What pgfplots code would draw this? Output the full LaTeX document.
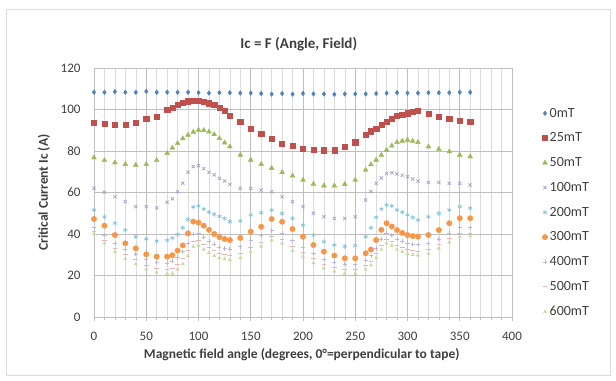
\documentclass[border=0pt]{standalone}
\usepackage{pgfplots}
\pgfplotsset{compat=1.18}
\usepackage{pgfplotstable}
\usepackage{fontspec}
\setmainfont{Carlito}
\definecolor{cA}{HTML}{4F81BD}
\definecolor{cB}{HTML}{C0504D}
\definecolor{cC}{HTML}{9BBB59}
\definecolor{cD}{HTML}{A89CCB}
\definecolor{cE}{HTML}{86C6DC}
\definecolor{cF}{HTML}{F79646}
\definecolor{cG}{HTML}{BDB5DC}
\definecolor{cH}{HTML}{E8B4B2}
\definecolor{cI}{HTML}{C9DA9E}
\definecolor{txt}{HTML}{404040}
\definecolor{grd}{HTML}{BFBFBF}
\definecolor{grdl}{HTML}{DCDCDC}

\pgfplotstableread{
a v
0 108.3
10 108.3
20 108.6
30 108.3
40 108.3
50 108.7
60 108.3
70 108.3
80 108.3
90 108.3
100 108.1
110 107.9
120 108.1
130 108.1
140 107.9
150 107.9
160 107.7
170 107.4
180 107.7
190 107.4
200 107.7
210 107.5
220 107.5
230 107.3
240 107.5
250 107.5
260 107.5
270 107.7
280 107.9
290 108.1
300 107.9
310 107.9
320 108.1
330 108.1
340 108.1
350 108.3
360 108.3
}\zero

\pgfplotstableread{
a    m25   m50   m100  m200  m300  m400  m500  m600
0    93.8  76.8  62.0  51.6  47.2  43.0  41.0  40.0
10   93.0  75.5  60.1  48.3  44.0  39.5  37.0  35.5
20   92.8  74.4  58.0  45.2  39.5  35.6  33.0  31.5
30   92.8  73.6  55.6  41.9  35.5  32.8  30.0  28.0
40   93.8  73.2  53.2  38.7  33.1  30.4  27.5  25.5
50   95.4  73.6  53.2  37.6  30.2  28.0  25.0  23.0
60   96.5  75.5  52.6  36.6  29.1  26.5  23.5  21.5
70   99.8  78.9  55.3  37.0  29.1  26.0  23.0  20.8
75   101.0 81.5  57.0  38.0  29.8  27.0  23.5  21.0
80   102.2 83.7  60.4  39.8  32.0  28.7  25.5  23.0
85   103.2 86.0  64.5  43.0  34.5  31.5  28.0  25.5
90   104.0 87.7  69.7  47.0  40.3  35.6  32.0  29.5
95   104.3 89.2  72.5  53.0  46.0  40.0  36.5  34.0
100  104.3 90.1  72.9  53.5  45.5  40.5  37.0  34.5
105  103.8 90.0  71.5  52.0  44.0  38.5  35.0  32.5
110  103.0 89.3  69.7  50.5  42.0  36.5  33.5  31.0
115  102.2 88.0  68.5  49.5  40.0  35.0  32.0  29.5
120  101.0 86.1  66.8  48.5  38.5  33.7  30.5  28.5
125  99.5  84.0  65.5  47.5  37.6  33.0  30.0  28.0
130  97.0  82.1  64.0  46.0  37.1  32.8  29.5  27.5
140  94.1  78.1  62.0  46.3  38.1  33.9  30.5  28.5
150  90.9  75.7  62.0  49.2  41.1  36.8  33.5  31.5
160  88.5  73.6  61.2  50.3  43.5  39.3  36.0  34.0
170  86.1  71.7  60.4  51.6  47.2  41.7  39.0  37.0
180  83.7  69.7  58.0  49.9  45.9  40.5  37.5  35.5
190  82.6  68.1  55.6  47.5  42.4  36.8  34.0  32.0
200  81.3  66.0  53.2  44.3  38.7  33.7  31.0  29.0
210  80.5  64.1  50.0  39.5  34.7  30.5  28.0  26.0
220  80.4  63.3  48.3  36.3  31.5  28.0  25.5  23.5
230  80.4  63.3  47.5  34.7  29.6  26.5  24.0  22.0
240  82.1  64.0  47.5  34.0  28.3  25.5  23.0  21.0
250  84.2  66.0  48.3  34.5  28.3  25.5  23.0  21.0
260  88.0  70.8  56.4  38.7  30.7  27.5  25.0  23.0
265  89.5  73.5  60.5  43.0  32.5  29.5  27.0  25.0
270  90.9  75.7  64.4  48.0  37.1  33.0  30.5  28.5
275  92.5  78.0  67.0  52.0  42.0  37.5  34.5  32.5
280  94.1  80.5  69.2  54.0  45.2  40.5  37.5  35.5
285  95.6  82.5  69.5  53.5  43.6  39.5  36.5  34.5
290  97.0  84.2  69.0  51.6  41.9  37.5  34.5  32.5
295  97.6  84.8  68.3  50.5  40.5  36.5  33.5  31.5
300  98.2  85.3  67.6  49.2  39.5  35.5  32.5  30.5
305  98.9  84.8  66.5  48.0  39.0  35.0  32.0  30.0
310  99.3  84.2  65.5  46.7  38.7  34.8  31.8  29.8
320  97.8  82.1  64.8  48.3  39.5  35.5  32.5  30.5
330  96.5  80.9  64.8  49.9  41.9  37.5  35.0  33.0
340  95.7  79.7  64.4  51.6  45.2  40.5  38.0  36.0
350  94.5  78.1  64.4  53.2  47.6  43.0  40.5  38.5
360  94.0  77.3  63.6  52.4  47.6  43.0  40.5  39.0
}\fields

\begin{document}
\begin{tikzpicture}
\path[use as bounding box] (-94bp,-64bp) rectangle (522bp,317bp);
\fill[white] (-94bp,-64bp) rectangle (522bp,317bp);
\draw[draw=grdl, line width=0.8bp] (-88bp,-58bp) rectangle (516bp,308bp);
\begin{axis}[
  at={(0,0)}, anchor=south west,
  scale only axis, width=418bp, height=249bp,
  xmin=0, xmax=400, ymin=0, ymax=120,
  xtick={0,50,...,400}, minor xtick={10,20,...,390},
  ytick={0,20,...,120},
  grid=both,
  major grid style={draw=grd, line width=0.6bp},
  minor grid style={draw=grdl, line width=0.5bp},
  axis line style={draw=grd, line width=0.6bp},
  tick pos=left, tick align=outside,
  major tick length=4bp, minor tick length=3bp,
  every tick/.style={draw=grd, line width=0.5bp},
  ytick style={draw=none},
  /pgf/number format/assume math mode=true,
  ticklabel style={font=\fontsize{13bp}{15bp}\selectfont, text=txt},
  yticklabel style={xshift=-6bp},
  xticklabel style={yshift=-8bp},
  xlabel={\textbf{Magnetic field angle (degrees, 0°=perpendicular to tape)}},
  ylabel={\textbf{Critical Current Ic (A)}},
  label style={font=\fontsize{13.5bp}{15bp}\selectfont, text=txt},
  xlabel style={at={(0.497,-0.152)}, anchor=center},
  ylabel style={at={(-0.12,0.5)}, anchor=center},
  title={\textbf{Ic = F (Angle, Field)}},
  title style={font=\fontsize{15bp}{17bp}\selectfont, text=txt, at={(0.49,1)}, anchor=south, yshift=7bp},
  legend style={at={(1.072,0.848)}, anchor=north west, draw=none, fill=none,
    font=\fontsize{14bp}{16bp}\selectfont, text=txt, row sep=10.2bp, inner sep=0pt},
  legend cell align=left,
  legend image code/.code={\draw[#1] plot coordinates {(0bp,0bp)};},
  only marks,
]
\addplot[mark=diamond*, mark size=2.3bp, color=cA] table[x=a,y=v] {\zero};
\addlegendentry{0mT}
\addplot[mark=square*, mark size=2.6bp, color=cB] table[x=a,y=m25] {\fields};
\addlegendentry{25mT}
\addplot[mark=triangle*, mark size=2.8bp, color=cC] table[x=a,y=m50] {\fields};
\addlegendentry{50mT}
\addplot[mark=x, mark size=2.3bp, color=cD, line width=0.7bp] table[x=a,y=m100] {\fields};
\addlegendentry{100mT}
\addplot[mark=asterisk, mark size=2.3bp, color=cE, line width=0.7bp] table[x=a,y=m200] {\fields};
\addlegendentry{200mT}
\addplot[mark=*, mark size=2.7bp, color=cF] table[x=a,y=m300] {\fields};
\addlegendentry{300mT}
\addplot[mark=+, mark size=2.1bp, color=cG, line width=0.7bp] table[x=a,y=m400] {\fields};
\addlegendentry{400mT}
\addplot[mark=-, mark size=2.3bp, color=cH, line width=0.9bp] table[x=a,y=m500] {\fields};
\addlegendentry{500mT}
\addplot[mark=triangle*, mark size=1.8bp, color=cI] table[x=a,y=m600] {\fields};
\addlegendentry{600mT}
\end{axis}
\end{tikzpicture}
\end{document}
